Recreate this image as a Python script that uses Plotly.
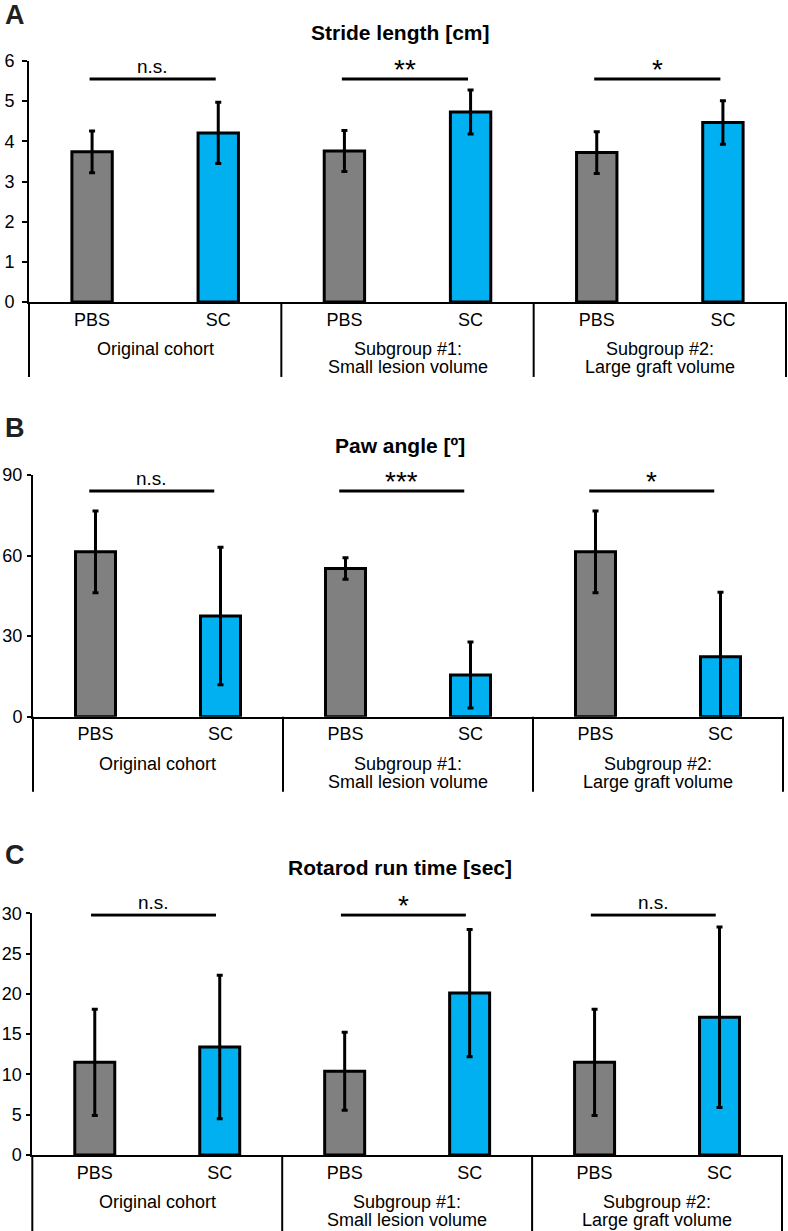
import plotly.graph_objects as go

W, H = 788, 1231

groups = ["Original cohort", "Subgroup #1:<br>Small lesion volume", "Subgroup #2:<br>Large graft volume"]
treatments = ["PBS", "SC", "PBS", "SC", "PBS", "SC"]

titles = ["Stride length [cm]", "Paw angle [º]", "Rotarod run time [sec]"]
letters = ["A", "B", "C"]

stride_mean = [3.74, 4.21, 3.76, 4.73, 3.72, 4.47]
stride_err = [0.52, 0.76, 0.51, 0.55, 0.52, 0.54]
paw_mean = [61.4, 37.5, 55.2, 15.5, 61.4, 22.3]
paw_err = [15.2, 25.6, 4.0, 12.3, 15.2, 24.0]
rotarod_mean = [11.5, 13.4, 10.4, 20.1, 11.5, 17.1]
rotarod_err = [6.6, 8.9, 4.85, 7.9, 6.6, 11.2]

stride_sig = ["n.s.", "**", "*"]
paw_sig = ["n.s.", "***", "*"]
rotarod_sig = ["n.s.", "*", "n.s."]

stride_sig_level = 5.55
paw_sig_level = 84
rotarod_sig_level = 29.8

y_ranges = [[0, 6], [0, 90], [0, 30]]
y_dticks = [1, 30, 5]

means = [stride_mean, paw_mean, rotarod_mean]
errs = [stride_err, paw_err, rotarod_err]
sigs = [stride_sig, paw_sig, rotarod_sig]
sig_levels = [stride_sig_level, paw_sig_level, rotarod_sig_level]

# pixel layout (left, right, top, bottom of each plot area)
px_boxes = [(29, 786, 61, 302), (33, 783, 475, 716.7), (32.3, 782, 913.3, 1155)]
sep_depth = [0.311, 0.311, 0.4]
title_y_px = [32, 445, 867]
letter_pos_px = [(15, 15), (15, 428), (15, 855)]
sig_shift = [-0.02, -0.05, -0.03]
tick_standoff = [4, 1, 1]
tick_len = [5, 4, 4]

GRAY = "#808080"
BLUE = "#00B0F0"
FONT = "Liberation Sans, Arial, Helvetica, sans-serif"

fig = go.Figure()
shapes = []
annotations = []
layout = dict(
    template="none",
    width=W, height=H, margin=dict(l=0, r=0, t=0, b=0, pad=0, autoexpand=False),
    paper_bgcolor="white", plot_bgcolor="white", showlegend=False,
    font=dict(family=FONT, color="black", size=18),
)

xpos = list(range(len(treatments)))
colors = [GRAY if t == "PBS" else BLUE for t in treatments]

for k in range(3):
    xa = "x" if k == 0 else f"x{k+1}"
    ya = "y" if k == 0 else f"y{k+1}"
    l, r, t, b = px_boxes[k]
    fig.add_trace(go.Bar(
        x=xpos, y=means[k], width=0.32,
        marker=dict(color=colors, line=dict(color="black", width=3)),
        error_y=dict(type="data", array=errs[k], color="black", thickness=3, width=3),
        xaxis=xa, yaxis=ya, hoverinfo="skip",
    ))
    # significance bars
    for g in range(3):
        x0 = 2 * g + sig_shift[k]
        x1 = 2 * g + 1 + sig_shift[k]
        fig.add_trace(go.Scatter(
            x=[x0, x1], y=[sig_levels[k], sig_levels[k]], mode="lines",
            line=dict(color="black", width=3), xaxis=xa, yaxis=ya,
            hoverinfo="skip", cliponaxis=False,
        ))
        label = sigs[k][g]
        is_star = "*" in label
        annotations.append(dict(
            x=(x0 + x1) / 2, y=sig_levels[k], xref=xa, yref=ya, xanchor="center",
            text=label, showarrow=False, yanchor="bottom",
            yshift=-8 if is_star else 0,
            font=dict(size=28 if is_star else 19, family=FONT, color="black"),
        ))
    xkey = "xaxis" if k == 0 else f"xaxis{k+1}"
    ykey = "yaxis" if k == 0 else f"yaxis{k+1}"
    layout[xkey] = dict(
        domain=[l / W, r / W], anchor=ya, range=[-0.5, 5.5], automargin=False,
        tickvals=xpos, ticktext=treatments, ticks="", showgrid=False,
        zeroline=False, showline=True, linecolor="black", linewidth=2,
        tickfont=dict(size=18, family=FONT, color="black"), ticklabelstandoff=0,
        fixedrange=True,
    )
    layout[ykey] = dict(
        domain=[1 - b / H, 1 - t / H], anchor=xa, range=y_ranges[k], automargin=False,
        dtick=y_dticks[k], tick0=0, ticks="outside", ticklen=tick_len[k], tickwidth=2,
        tickcolor="black", showgrid=False, zeroline=False, showline=True,
        linecolor="black", linewidth=2,
        tickfont=dict(size=18, family=FONT, color="black"),
        ticklabelstandoff=tick_standoff[k],
        fixedrange=True,
    )
    dref_x = f"{xa} domain"
    dref_y = f"{ya} domain"
    for s in [0, 1 / 3, 2 / 3, 1]:
        shapes.append(dict(
            type="line", xref=dref_x, yref=dref_y, x0=s, x1=s, y0=0, y1=-sep_depth[k],
            line=dict(color="black", width=2),
        ))
    for g, name in enumerate(groups):
        for li, line in enumerate(name.split("<br>")):
            annotations.append(dict(
                x=(2 * g + 1) / 6, y=0, xref=dref_x, yref=dref_y,
                xanchor="center", yanchor="middle",
                yshift=-47 - 18 * li, text=line, showarrow=False,
                font=dict(size=18, family=FONT, color="black"),
            ))
    annotations.append(dict(
        x=400 / W, y=1 - title_y_px[k] / H, xref="paper", yref="paper",
        text=f"<b>{titles[k]}</b>", showarrow=False, yanchor="middle", xanchor="center",
        font=dict(size=21, family=FONT, color="black"),
    ))
    lx, ly = letter_pos_px[k]
    annotations.append(dict(
        x=lx / W, y=1 - ly / H, xref="paper", yref="paper",
        text=f"<b>{letters[k]}</b>", showarrow=False, yanchor="middle", xanchor="center",
        font=dict(size=27, family=FONT, color="#231f20"),
    ))

layout["shapes"] = shapes
layout["annotations"] = annotations
fig.update_layout(**layout)
fig.write_html(
    "out.html",
    config={"displayModeBar": False, "staticPlot": True},
    post_script="document.body.style.margin='0';document.body.style.overflow='hidden';",
)
